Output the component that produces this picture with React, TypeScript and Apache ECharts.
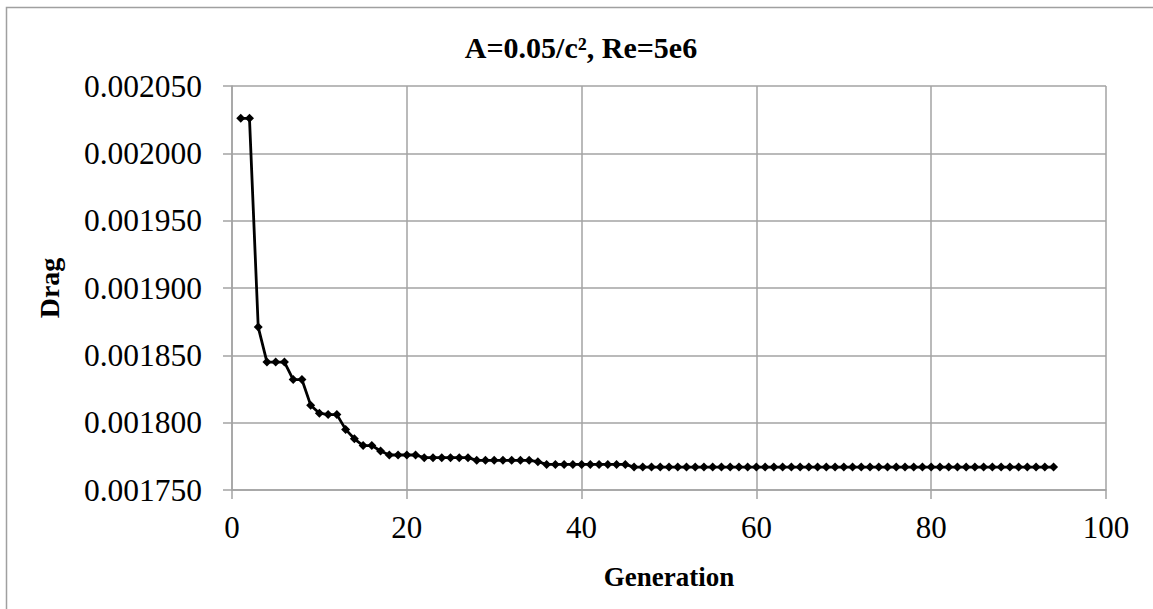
import React, { useEffect, useRef } from "react";
import * as echarts from "echarts";

const chartTitle = "A=0.05/c², Re=5e6";
const xName = "Generation";
const yName = "Drag";

const generations = [
  1, 2, 3, 4, 5, 6, 7, 8, 9, 10, 11, 12, 13, 14, 15, 16, 17, 18, 19, 20,
  21, 22, 23, 24, 25, 26, 27, 28, 29, 30, 31, 32, 33, 34, 35, 36, 37, 38, 39, 40,
  41, 42, 43, 44, 45, 46, 47, 48, 49, 50, 51, 52, 53, 54, 55, 56, 57, 58, 59, 60,
  61, 62, 63, 64, 65, 66, 67, 68, 69, 70, 71, 72, 73, 74, 75, 76, 77, 78, 79, 80,
  81, 82, 83, 84, 85, 86, 87, 88, 89, 90, 91, 92, 93, 94,
];

const drag = [
  0.002026, 0.002026, 0.001871, 0.001845, 0.001845, 0.001845, 0.001832, 0.001832, 0.001813, 0.001807,
  0.001806, 0.001806, 0.001795, 0.001788, 0.001783, 0.001783, 0.001779, 0.001776, 0.001776, 0.001776,
  0.001776, 0.001774, 0.001774, 0.001774, 0.001774, 0.001774, 0.001774, 0.001772, 0.001772, 0.001772,
  0.001772, 0.001772, 0.001772, 0.001772, 0.001771, 0.001769, 0.001769, 0.001769, 0.001769, 0.001769,
  0.001769, 0.001769, 0.001769, 0.001769, 0.001769, 0.001767, 0.001767, 0.001767, 0.001767, 0.001767,
  0.001767, 0.001767, 0.001767, 0.001767, 0.001767, 0.001767, 0.001767, 0.001767, 0.001767, 0.001767,
  0.001767, 0.001767, 0.001767, 0.001767, 0.001767, 0.001767, 0.001767, 0.001767, 0.001767, 0.001767,
  0.001767, 0.001767, 0.001767, 0.001767, 0.001767, 0.001767, 0.001767, 0.001767, 0.001767, 0.001767,
  0.001767, 0.001767, 0.001767, 0.001767, 0.001767, 0.001767, 0.001767, 0.001767, 0.001767, 0.001767,
  0.001767, 0.001767, 0.001767, 0.001767,
];

const xMin = 0;
const xMax = 100;
const xStep = 20;
const yMin = 0.00175;
const yMax = 0.00205;
const yStep = 0.00005;

const FONT = "'Liberation Serif', 'Times New Roman', serif";
const GRID = "#a3a3a3";

export default function App() {
  const ref = useRef<HTMLDivElement>(null);

  useEffect(() => {
    document.body.style.margin = "0";
    if (!ref.current) return;
    const chart = echarts.init(ref.current, null, { renderer: "svg" });
    const axisCommon = {
      axisLine: { show: true, lineStyle: { color: GRID, width: 1.5 } },
      axisTick: { show: true, inside: false, length: 9, lineStyle: { color: GRID, width: 1.5 } },
      splitLine: { show: true, lineStyle: { color: GRID, width: 1.5 } },
    };
    chart.setOption({
      animation: false,
      backgroundColor: "#ffffff",
      textStyle: { fontFamily: FONT },
      grid: { left: 232, right: 47, top: 86, bottom: 119, containLabel: false },
      graphic: [
        {
          type: "rect",
          shape: { x: 6.5, y: 7.5, width: 1300, height: 800 },
          style: { fill: "none", stroke: "#a0a0a0", lineWidth: 1.5 },
          silent: true,
          z: -10,
        },
        {
          type: "text",
          x: 581,
          y: 47,
          style: {
            text: chartTitle,
            fontFamily: FONT,
            fontWeight: "bold",
            fontSize: 30,
            fill: "#000",
            textAlign: "center",
            textVerticalAlign: "middle",
          },
        },
      ],
      xAxis: {
        type: "value",
        min: xMin,
        max: xMax,
        interval: xStep,
        name: xName,
        nameLocation: "middle",
        nameGap: 73,
        nameTextStyle: { fontFamily: FONT, fontWeight: "bold", fontSize: 27, color: "#000" },
        axisLabel: { margin: 22, fontFamily: FONT, fontSize: 31, color: "#000" },
        ...axisCommon,
      },
      yAxis: {
        type: "value",
        min: yMin,
        max: yMax,
        interval: yStep,
        name: yName,
        nameLocation: "middle",
        nameGap: 169,
        nameRotate: 90,
        nameTextStyle: { fontFamily: FONT, fontWeight: "bold", fontSize: 28, color: "#000" },
        axisLabel: {
          margin: 30,
          fontFamily: FONT,
          fontSize: 31.5,
          color: "#000",
          formatter: (v: number) => v.toFixed(6),
        },
        ...axisCommon,
      },
      series: [
        {
          type: "line",
          data: generations.map((g, i) => [g, drag[i]]),
          symbol: "diamond",
          symbolSize: 9,
          showSymbol: true,
          lineStyle: { color: "#000", width: 2.8 },
          itemStyle: { color: "#000" },
        },
      ],
    });
    return () => chart.dispose();
  }, []);

  return <div ref={ref} style={{ width: 1153, height: 609 }} />;
}
